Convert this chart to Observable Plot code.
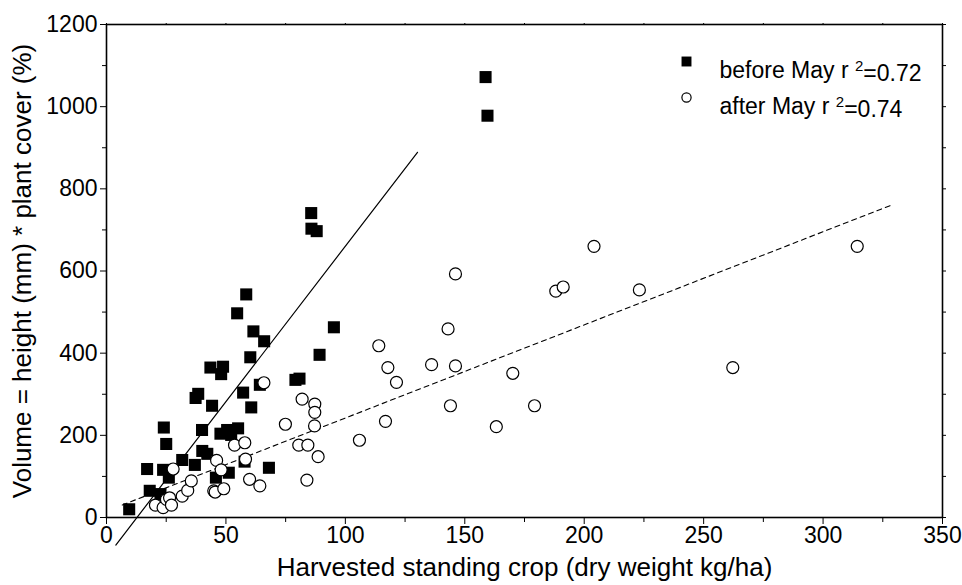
<!DOCTYPE html>
<html>
<head>
<meta charset="utf-8">
<script src="https://cdn.jsdelivr.net/npm/d3@7"></script>
<script src="https://cdn.jsdelivr.net/npm/@observablehq/plot@0.6"></script>
<style>
  html, body { margin: 0; padding: 0; background: #fff; }
  #chart svg { font-family: "Liberation Sans", Arial, Helvetica, sans-serif; }
</style>
</head>
<body>
<div id="chart"></div>
<script>
// before May (filled squares)
const beforeX = [9.5, 17, 18.1, 22.6, 23.7, 24, 25, 26.1, 31.7, 37, 37.3, 38.4, 40, 40.1, 42.2, 43.5, 44.2, 45.8, 47.7, 48, 48.8, 50.5, 51.2, 52.2, 54.7, 55.1, 57.2, 57.8, 58.5, 60.2, 60.6, 61.5, 64.2, 66, 68, 79.1, 80.8, 85.7, 85.8, 88, 89.2, 95.2, 159.5, 158.7];
const beforeY = [20, 118, 65, 57, 116, 219, 179, 97, 140, 128, 291, 301, 213, 162, 155, 365, 272, 97, 204, 349, 367, 213, 109, 201, 497, 217, 304, 136, 543, 390, 268, 453, 323, 429, 121, 335, 338, 741, 703, 697, 396, 463, 978, 1072];
// after May (open circles)
const afterX = [20.5, 23.7, 25.1, 26.4, 27.2, 27.9, 31.7, 34, 35.5, 44.9, 45.5, 46.1, 48, 49.1, 53.6, 57.9, 58.2, 59.9, 64.2, 65.9, 74.9, 80.5, 81.9, 83.9, 84.3, 87.2, 87.2, 87.1, 88.6, 105.9, 114, 116.8, 117.8, 121.4, 136.1, 143, 144, 146.1, 146.1, 163.2, 170.1, 179.2, 188.1, 191.2, 204.1, 223.1, 262.2, 314.3];
const afterY = [30, 24, 44, 48, 30, 118, 52, 66, 89, 65, 62, 139, 116, 70, 176, 182, 142, 93, 77, 328, 227, 176, 288, 91, 176, 276, 256, 223, 148, 188, 418, 234, 365, 329, 372, 459, 272, 593, 369, 221, 351, 272, 551, 561, 660, 554, 365, 660];
// regression lines (end points)
const fitBeforeX = [3.9, 130.2];
const fitBeforeY = [-67, 889];
const fitAfterX = [6.6, 329.3];
const fitAfterY = [30.5, 762];
// ticks
const xMajor = [0, 50, 100, 150, 200, 250, 300, 350];
const xMinor = [25, 75, 125, 175, 225, 275, 325];
const xAll = [0, 25, 50, 75, 100, 125, 150, 175, 200, 225, 250, 275, 300, 325, 350];
const yMajor = [0, 200, 400, 600, 800, 1000, 1200];
const yMinor = [100, 300, 500, 700, 900, 1100];
const yAll = [0, 100, 200, 300, 400, 500, 600, 700, 800, 900, 1000, 1100, 1200];
const legendLabels = ["before May r²=0.72", "after May r²=0.74"];
const xTitle = "Harvested standing crop (dry weight kg/ha)";
const yTitle = "Volume = height (mm) * plant cover (%)";

const before = beforeX.map((x, i) => ({x, y: beforeY[i]}));
const after = afterX.map((x, i) => ({x, y: afterY[i]}));
const fitB = fitBeforeX.map((x, i) => ({x, y: fitBeforeY[i]}));
const fitA = fitAfterX.map((x, i) => ({x, y: fitAfterY[i]}));

const fs = 23;
const chart = Plot.plot({
  width: 962,
  height: 585,
  marginLeft: 106,
  marginRight: 20,
  marginTop: 24,
  marginBottom: 68,
  style: {color: "black", background: "white", fontSize: fs + "px", fontFamily: "Liberation Sans, Arial, sans-serif"},
  x: {domain: [0, 350]},
  y: {domain: [0, 1200]},
  marks: [
    Plot.axisX({ticks: xMajor, tickSize: 7, tickPadding: 2, fontSize: fs, tickFormat: "d", label: null}),
    Plot.axisX({ticks: xMinor, tickSize: 5, tickFormat: () => "", label: null}),
    Plot.axisX({anchor: "top", ticks: xAll, tickSize: 2, tickFormat: () => "", label: null}),
    Plot.axisY({ticks: yMajor, tickSize: 6, tickPadding: 3, fontSize: fs, tickFormat: "d", label: null}),
    Plot.axisY({ticks: yMinor, tickSize: 4, tickFormat: () => "", label: null}),
    Plot.axisY({anchor: "right", ticks: yAll, tickSize: 3, tickFormat: () => "", label: null}),
    Plot.frame({stroke: "black", strokeWidth: 1.6}),
    // axis titles
    Plot.text([xTitle], {frameAnchor: "bottom", dy: 58, text: d => d, fontSize: 26, fill: "black"}),
    Plot.text([yTitle], {frameAnchor: "left", dx: -84, rotate: -90, textAnchor: "middle", text: d => d, fontSize: 26, fill: "black"}),
    Plot.line(fitB, {x: "x", y: "y", stroke: "black", strokeWidth: 1.2}),
    Plot.line(fitA, {x: "x", y: "y", stroke: "black", strokeWidth: 1.1, strokeDasharray: "5,4"}),
    Plot.dot(before, {x: "x", y: "y", symbol: "square", r: 6.8, fill: "black", stroke: "none"}),
    Plot.dot(after, {x: "x", y: "y", symbol: "circle", r: 6, fill: "white", stroke: "black", strokeWidth: 1.2}),
    // legend
    Plot.dot([0], {frameAnchor: "top-left", dx: 580, dy: 37, symbol: "square", r: 5.6, fill: "black"}),
    Plot.dot([0], {frameAnchor: "top-left", dx: 580, dy: 73, symbol: "circle", r: 4.6, fill: "white", stroke: "black", strokeWidth: 1.2}),
    Plot.text([legendLabels[0]], {frameAnchor: "top-left", dx: 613, dy: 37, text: d => d, textAnchor: "start", fontSize: 23, fill: "black"}),
    Plot.text([legendLabels[1]], {frameAnchor: "top-left", dx: 613, dy: 73, text: d => d, textAnchor: "start", fontSize: 23, fill: "black"})
  ]
});
document.getElementById("chart").appendChild(chart);

// render the r² superscript as a raised small "2"
d3.select(chart).selectAll("text").each(function() {
  const t = d3.select(this);
  const s = t.text();
  if (s.includes("²")) {
    const [a, b] = s.split("²");
    t.text(null);
    t.append("tspan").text(a + " ");
    t.append("tspan").attr("dy", "-0.45em").attr("font-size", "15px").text("2");
    t.append("tspan").attr("dy", "0.45em").text(b);
  }
});
</script>
</body>
</html>
